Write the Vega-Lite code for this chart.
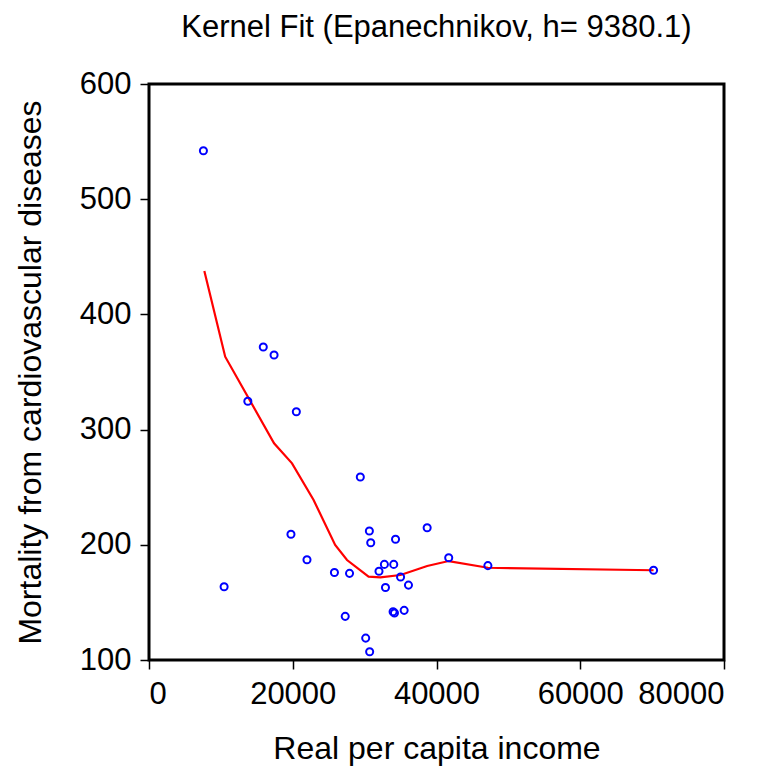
{
  "$schema": "https://vega.github.io/schema/vega-lite/v6.json",
  "autosize": "none",
  "padding": {"left": 149, "top": 84, "right": 46, "bottom": 112},
  "width": 575,
  "height": 576,
  "background": "white",
  "title": {
    "text": "Kernel Fit (Epanechnikov, h= 9380.1)",
    "font": "Liberation Sans",
    "fontSize": 31,
    "fontWeight": "normal",
    "color": "black",
    "anchor": "middle",
    "baseline": "alphabetic",
    "offset": 0
  },
  "config": {
    "view": {"stroke": "black", "strokeWidth": 3},
    "axis": {
      "grid": false,
      "domain": false,
      "tickColor": "black",
      "tickWidth": 1.5,
      "tickSize": 9,
      "labelFont": "Liberation Sans",
      "labelFontSize": 31,
      "labelColor": "black",
      "titleFont": "Liberation Sans",
      "titleFontSize": 32,
      "titleFontWeight": "normal",
      "titleColor": "black"
    }
  },
  "datasets": {
    "pts": [
      {"income": 7570, "mortality": 542},
      {"income": 15900, "mortality": 371.7},
      {"income": 17400, "mortality": 364.8},
      {"income": 13750, "mortality": 324.6},
      {"income": 20500, "mortality": 315.5},
      {"income": 29400, "mortality": 258.9},
      {"income": 19750, "mortality": 209.1},
      {"income": 30660, "mortality": 212},
      {"income": 30850, "mortality": 201.8},
      {"income": 34300, "mortality": 204.8},
      {"income": 38700, "mortality": 214.8},
      {"income": 21980, "mortality": 187},
      {"income": 25800, "mortality": 176},
      {"income": 27900, "mortality": 175.2},
      {"income": 32750, "mortality": 183},
      {"income": 34050, "mortality": 183},
      {"income": 32000, "mortality": 177},
      {"income": 35000, "mortality": 172},
      {"income": 32900, "mortality": 163},
      {"income": 36100, "mortality": 165},
      {"income": 10450, "mortality": 163.6},
      {"income": 27300, "mortality": 137.9},
      {"income": 33960, "mortality": 141.9},
      {"income": 34150, "mortality": 140.8},
      {"income": 35500, "mortality": 143.1},
      {"income": 30150, "mortality": 119},
      {"income": 30700, "mortality": 107.2},
      {"income": 41700, "mortality": 188.8},
      {"income": 47150, "mortality": 181.9},
      {"income": 70200, "mortality": 177.9}
    ],
    "fit": [
      {"income": 7700, "mortality": 437.7},
      {"income": 10600, "mortality": 363.3},
      {"income": 17400, "mortality": 288.1},
      {"income": 19900, "mortality": 270.7},
      {"income": 22900, "mortality": 238.9},
      {"income": 25900, "mortality": 199.8},
      {"income": 27550, "mortality": 186.8},
      {"income": 30550, "mortality": 172.3},
      {"income": 32200, "mortality": 171.8},
      {"income": 35000, "mortality": 173.8},
      {"income": 38700, "mortality": 181.6},
      {"income": 41700, "mortality": 185.9},
      {"income": 47150, "mortality": 180.1},
      {"income": 70200, "mortality": 177.9}
    ]
  },
  "layer": [
    {
      "data": {"name": "fit"},
      "mark": {"type": "line", "color": "red", "strokeWidth": 2.2},
      "encoding": {
        "x": {"field": "income", "type": "quantitative",
              "scale": {"domain": [0, 80000], "nice": false},
              "axis": {"values": [0, 20000, 40000, 60000, 80000], "format": "d", "labelPadding": 10, "title": "Real per capita income", "titlePadding": 24}},
        "y": {"field": "mortality", "type": "quantitative",
              "scale": {"domain": [100, 600], "nice": false, "zero": false},
              "axis": {"values": [100, 200, 300, 400, 500, 600], "labelPadding": 9, "title": "Mortality from cardiovascular diseases", "titlePadding": 32}}
      }
    },
    {
      "data": {"name": "pts"},
      "mark": {"type": "point", "shape": "circle", "filled": false, "color": "blue", "size": 50, "strokeWidth": 2, "opacity": 1},
      "encoding": {
        "x": {"field": "income", "type": "quantitative"},
        "y": {"field": "mortality", "type": "quantitative"}
      }
    }
  ]
}
